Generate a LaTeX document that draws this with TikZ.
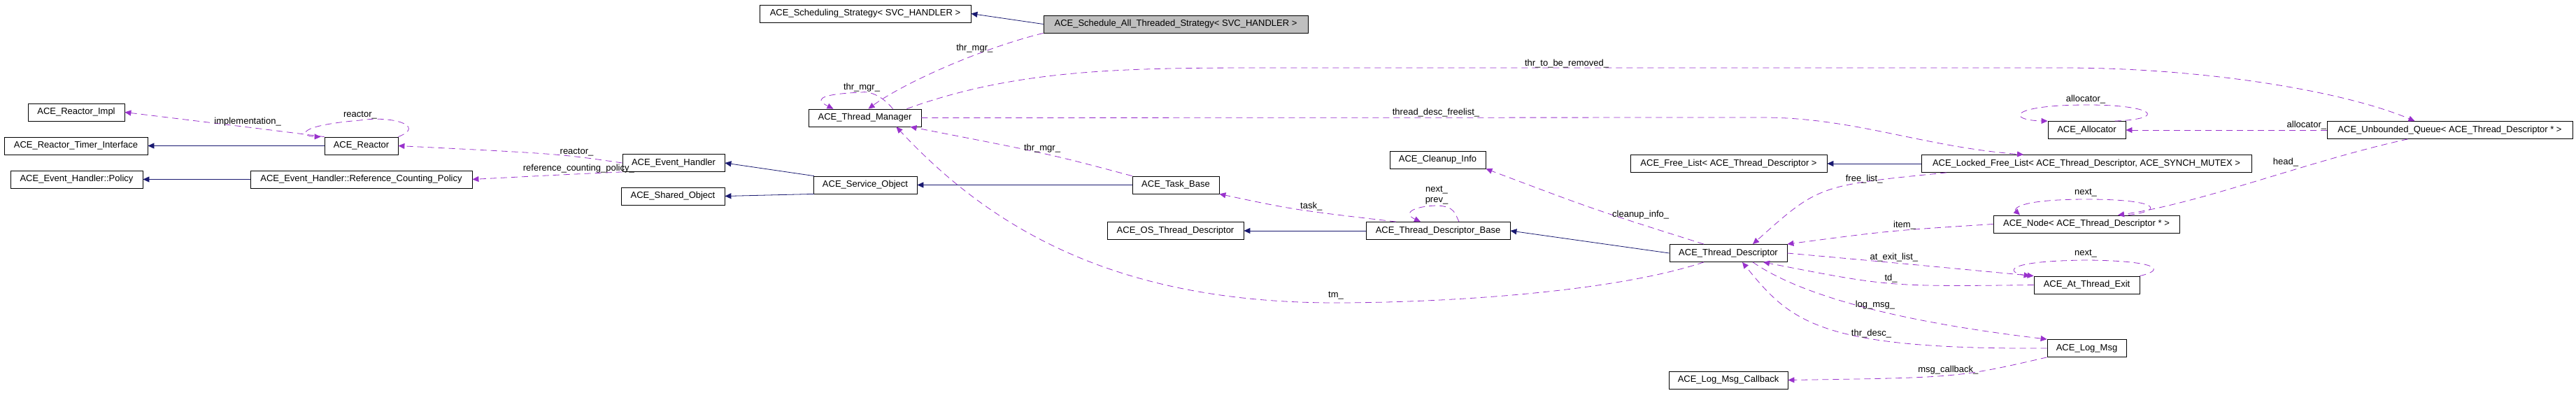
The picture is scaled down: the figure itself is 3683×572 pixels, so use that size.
\documentclass[tikz,border=0pt]{standalone}
\usepackage{fontspec}
\setmainfont{Liberation Sans}
\usetikzlibrary{arrows.meta}
\definecolor{inherit}{RGB}{25,25,112}
\definecolor{usage}{RGB}{153,50,204}
\begin{document}
\begin{tikzpicture}[
    x=1pt, y=-1pt,
    cls/.style = {
      draw,
      thick,
      rectangle,
      minimum height = 25pt,
      inner sep = 0pt,
      font = \fontsize{13}{15}\selectfont
    },
    base/.style = {draw=inherit, thick, -{Triangle[length=9pt,width=8pt]}},
    uses/.style = {draw=usage, thick, dash pattern=on 9pt off 6pt,
      -{Triangle[length=9pt,width=8pt]}, fill=none},
    lbl/.style = {font = \fontsize{13}{15}\selectfont, inner sep = 1pt}
  ]
  \useasboundingbox (0,0) rectangle (3683,572);

  % classes
  \node[cls, minimum width=378pt, fill=black!25] (sched)   at (1681,34.5)  {ACE\_Schedule\_All\_Threaded\_Strategy< SVC\_HANDLER >};
  \node[cls, minimum width=302pt] (strat)   at (1237,19.5)  {ACE\_Scheduling\_Strategy< SVC\_HANDLER >};
  \node[cls, minimum width=161pt] (thrmgr)  at (1236.5,168.5) {ACE\_Thread\_Manager};
  \node[cls, minimum width=138pt] (rimpl)   at (109,160.5)  {ACE\_Reactor\_Impl};
  \node[cls, minimum width=205pt] (timer)   at (108.5,208.5) {ACE\_Reactor\_Timer\_Interface};
  \node[cls, minimum width=189pt] (policy)  at (109.5,256.5) {ACE\_Event\_Handler::Policy};
  \node[cls, minimum width=105pt] (reactor) at (516.5,208.5) {ACE\_Reactor};
  \node[cls, minimum width=317pt] (refpol)  at (516.5,256.5) {ACE\_Event\_Handler::Reference\_Counting\_Policy};
  \node[cls, minimum width=146pt] (evh)     at (963,233)    {ACE\_Event\_Handler};
  \node[cls, minimum width=148pt] (shared)  at (962,280.5)  {ACE\_Shared\_Object};
  \node[cls, minimum width=148pt] (svcobj)  at (1237,264.5) {ACE\_Service\_Object};
  \node[cls, minimum width=124pt] (task)    at (1681,264.5) {ACE\_Task\_Base};
  \node[cls, minimum width=137pt] (cleanup) at (2055.5,228.5) {ACE\_Cleanup\_Info};
  \node[cls, minimum width=281pt] (freel)   at (2471.5,234) {ACE\_Free\_List< ACE\_Thread\_Descriptor >};
  \node[cls, minimum width=206pt] (tdb)     at (2056,330)   {ACE\_Thread\_Descriptor\_Base};
  \node[cls, minimum width=195pt] (ostd)    at (1680.5,330) {ACE\_OS\_Thread\_Descriptor};
  \node[cls, minimum width=168pt] (td)      at (2471,362)   {ACE\_Thread\_Descriptor};
  \node[cls, minimum width=111pt] (alloc)   at (2983.5,186) {ACE\_Allocator};
  \node[cls, minimum width=351pt] (queue)   at (3502.5,186) {ACE\_Unbounded\_Queue< ACE\_Thread\_Descriptor * >};
  \node[cls, minimum width=472pt] (lockfl)  at (2983,234)   {ACE\_Locked\_Free\_List< ACE\_Thread\_Descriptor, ACE\_SYNCH\_MUTEX >};
  \node[cls, minimum width=266pt] (tnode)   at (2983,320.5) {ACE\_Node< ACE\_Thread\_Descriptor * >};
  \node[cls, minimum width=151pt] (atexit)  at (2983.5,407.5) {ACE\_At\_Thread\_Exit};
  \node[cls, minimum width=113pt] (logmsg)  at (2983.5,498) {ACE\_Log\_Msg};
  \node[cls, minimum width=170pt] (logcb)   at (2471,543.5) {ACE\_Log\_Msg\_Callback};

  % inheritance
  \draw[base] (sched.west) -- (strat.east);
  \draw[base] (reactor) -- (timer);
  \draw[base] (refpol) -- (policy);
  \draw[base] (svcobj.170) -- (evh.east);
  \draw[base] (svcobj.190) -- (shared.east);
  \draw[base] (task) -- (svcobj);
  \draw[base] (tdb) -- (ostd);
  \draw[base] (td.west) -- (tdb.east);
  \draw[base] (lockfl.west) -- (freel.east);

  % usage
  \draw[uses] (reactor.north west) .. controls (380,185) .. (rimpl.east) node[lbl, pos=0.55, above] {implementation\_};
  \draw[uses] (reactor.north east) .. controls (610,180) and (560,165) .. (515,172) .. controls (420,180) and (430,195) .. ([xshift=-5pt]reactor.north west);
  \node[lbl] (lreactor) at (515,165) {reactor\_};
  \draw[uses] (evh.west) .. controls (800,220) .. (reactor.east) node[lbl, pos=0.3, above] {reactor\_};
  \draw[uses] (evh.south west) .. controls (800,250) .. (refpol.east) node[lbl, pos=0.3, above] {reference\_counting\_policy\_};
  \draw[uses] (sched.south west) .. controls (1400,70) and (1290,120) .. ([xshift=5pt]thrmgr.north) node[lbl, pos=0.25, left] {thr\_mgr\_};
  \draw[uses] ([xshift=40pt]thrmgr.north) .. controls (1260,135) and (1240,130) .. (1232,132) .. controls (1160,135) and (1170,145) .. ([xshift=-45pt]thrmgr.north);
  \node[lbl] (lthrmgr) at (1232,125) {thr\_mgr\_};
  \draw[uses] ([xshift=60pt]thrmgr.north) .. controls (1450,100) and (1600,97) .. (1800,97) -- (2950,97) .. controls (3150,97) and (3350,130) .. ([xshift=-50pt]queue.north);
  \node[lbl] (lremoved) at (2240,91) {thr\_to\_be\_removed\_};
  \draw[uses] (thrmgr.east) -- (2520,168) .. controls (2650,168) and (2750,210) .. ([xshift=-90pt]lockfl.north);
  \node[lbl] (lfreelist) at (2053,161) {thread\_desc\_freelist\_};
  \draw[uses] (task.north west) .. controls (1500,220) .. ([xshift=65pt]thrmgr.south) node[lbl, pos=0.5, above] {thr\_mgr\_};
  \draw[uses] ([xshift=-35pt]td.south) .. controls (2300,420) and (2050,433) .. (1910,433) .. controls (1600,433) and (1420,330) .. ([xshift=45pt]thrmgr.south);
  \node[lbl] (ltm) at (1910,423) {tm\_};
  \draw[uses] ([xshift=-60pt]tdb.north) .. controls (1850,300) .. (task.south east) node[lbl, pos=0.4, above] {task\_};
  \draw[uses] ([xshift=30pt]tdb.north) .. controls (2080,305) and (2080,295) .. (2054,294) .. controls (2020,295) and (2005,305) .. ([xshift=-25pt]tdb.north);
  \node[lbl, align=center] (lnext) at (2054,279) {next\_\\prev\_};
  \draw[uses] ([xshift=-35pt]td.north) .. controls (2280,300) .. (cleanup.south east) node[lbl, pos=0.4, right] {cleanup\_info\_};
  \draw[uses] ([xshift=-200pt]lockfl.south) .. controls (2600,265) .. ([xshift=35pt]td.north) node[lbl, pos=0.2, left] {free\_list\_};
  \draw[uses] (tnode.west) .. controls (2700,330) .. (td.north east) node[lbl, pos=0.4, above] {item\_};
  \draw[uses] ([xshift=40pt]alloc.north) .. controls (3100,170) and (3080,150) .. (2985,150) .. controls (2870,150) and (2870,172) .. (alloc.north west);
  \node[lbl] (lalloc) at (2982,142) {allocator\_};
  \draw[uses] (queue.west) -- (alloc.east) node[lbl, pos=0.1, above] {allocator\_};
  \draw[uses] ([xshift=-60pt]queue.south) .. controls (3300,230) and (3150,290) .. ([xshift=45pt]tnode.north);
  \node[lbl] (lhead) at (3268,232) {head\_};
  \draw[uses] ([xshift=60pt]tnode.north) .. controls (3100,300) and (3080,285) .. (2985,285) .. controls (2880,285) and (2880,300) .. ([xshift=-95pt]tnode.north);
  \node[lbl] (lnodenext) at (2982,276) {next\_};
  \draw[uses] (td.east) .. controls (2700,375) .. (atexit.north west) node[lbl, pos=0.5, above] {at\_exit\_list\_};
  \draw[uses] (atexit.west) .. controls (2700,410) .. ([xshift=50pt]td.south) node[lbl, pos=0.5, above] {td\_};
  \draw[uses] (atexit.north east) .. controls (3100,385) and (3080,373) .. (2985,372) .. controls (2860,373) and (2870,390) .. ([xshift=-5pt]atexit.north west);
  \node[lbl] (latnext) at (2982,363) {next\_};
  \draw[uses] ([xshift=35pt]td.south) .. controls (2600,440) and (2800,470) .. (logmsg.north west) node[lbl, pos=0.45, above] {log\_msg\_};
  \draw[uses] (logmsg.west) .. controls (2600,500) and (2560,460) .. ([xshift=20pt]td.south) node[lbl, pos=0.35, above] {thr\_desc\_};
  \draw[uses] (logmsg.south west) .. controls (2800,540) .. (logcb.east) node[lbl, pos=0.5, above] {msg\_callback\_};
\end{tikzpicture}
\end{document}
